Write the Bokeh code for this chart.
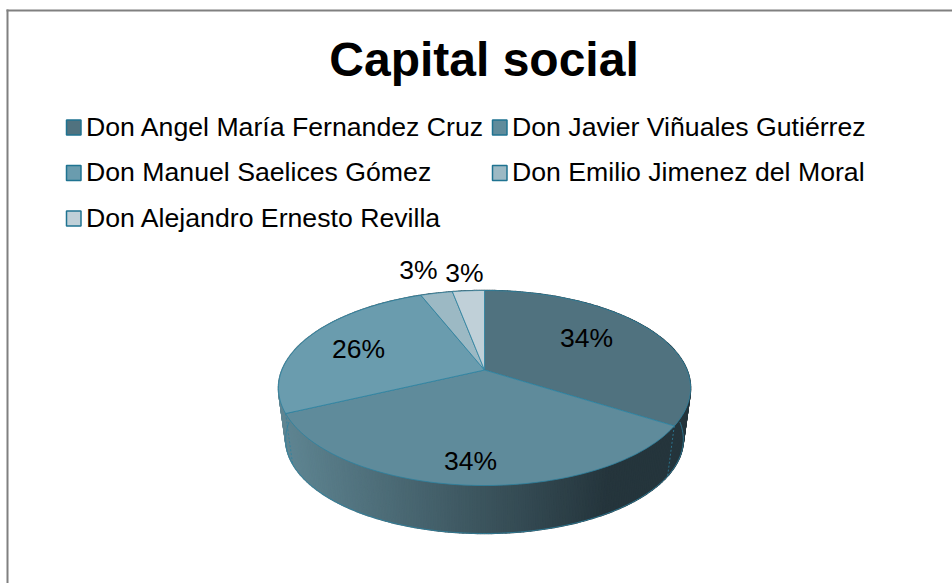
import numpy as np
from bokeh.plotting import figure
from bokeh.core.properties import value
from bokeh.embed import file_html
from bokeh.resources import INLINE

title = "Capital social"
names = ["Don Angel María Fernandez Cruz", "Don Javier Viñuales Gutiérrez",
         "Don Manuel Saelices Gómez", "Don Emilio Jimenez del Moral",
         "Don Alejandro Ernesto Revilla"]
shares = [34, 34, 26, 3, 3]
colors = ["#50727f", "#5f8b9b", "#6a9cae", "#9cb9c4", "#c0d0d8"]

FONT = value("Liberation Sans")
EDGE = "#2c82a0"
W, H = 952, 583

p = figure(width=W, height=H, x_range=(0, 952), y_range=(583, 0),
           output_backend="svg", toolbar_location=None, min_border=0,
           outline_line_color=None, background_fill_color="white")
p.axis.visible = False
p.grid.visible = False
# the frame starts left of the page margin, so the figure sits at the window's corner
p.styles = {"position": "absolute", "left": "0px", "top": "0px"}

# frame
p.line([7, 7], [583, 9], line_color="#808080", line_width=2)
p.line([6, 952], [10, 10], line_color="#808080", line_width=2)

# perspective disc: turn (fraction of the circle, clockwise from 12 o'clock) to screen
CX, AY, A, B, K = 484.0, 369.5, 94.2, 202.5, 0.1846


def rim(frac, dy=0.0, s=1.0):
    t = 2 * np.pi * np.asarray(frac, dtype=float)
    x, y = np.sin(t), np.cos(t)
    d = 1 + K * y
    return CX + s * B * x / d, AY + dy - s * A * y / d


WALL_DY, WALL_S = 52.0, 0.965


def wall_color(x):
    f = np.clip((x - 285) / (610 - 285), 0, 1)
    a, b = np.array([0x5f, 0x85, 0x92]), np.array([0x25, 0x35, 0x3c])
    c = a + (b - a) * f
    return "#%02x%02x%02x" % tuple(int(v) for v in c)


# wall, drawn back to front
n = 420
fr = np.linspace(0, 1, n + 1)
strips = []
for i in range(n):
    x0, y0 = rim(fr[i])
    x1, y1 = rim(fr[i + 1])
    x2, y2 = rim(fr[i + 1], WALL_DY, WALL_S)
    x3, y3 = rim(fr[i], WALL_DY, WALL_S)
    strips.append(((y0 + y1) / 2, [x0, x1, x2, x3], [y0, y1, y2, y3], wall_color((x0 + x1) / 2)))
strips.sort(key=lambda s: s[0])
p.patches([s[1] for s in strips], [s[2] for s in strips],
          fill_color=[s[3] for s in strips], line_color=[s[3] for s in strips], line_width=1.5)

# lower outline of the wall
f_low = np.linspace(0.25, 0.75, 200)
bx, by = rim(f_low, WALL_DY, WALL_S)
p.line(bx, by, line_color=EDGE, line_width=0.8)

# slice boundaries on the wall
cum = np.cumsum([0] + shares) / sum(shares)
for c in cum[1:3]:
    tx, ty = rim(c)
    ex, ey = rim(c, WALL_DY, WALL_S)
    p.line([tx, ex], [ty, ey], line_color=EDGE, line_width=0.8, line_dash="2 2")

# top faces
for i, col in enumerate(colors):
    f = np.linspace(cum[i], cum[i + 1], 100)
    x, y = rim(f)
    p.patch(np.r_[CX, x], np.r_[AY, y], fill_color=col, line_color=EDGE, line_width=0.8)

# percentage labels
lab_x = [586, 470, 358, 418, 464]
lab_y = [337, 460, 348, 269, 272]
p.text(lab_x, lab_y, text=[f"{v}%" for v in shares], text_font=FONT, text_font_size="26.5px",
       text_align="center", text_baseline="middle", text_color="black")

# title
p.text([483.5], [59], text=[title], text_font=FONT, text_font_size="48px", text_font_style="bold",
       text_align="center", text_baseline="middle", text_color="black")

# legend
leg_col = [66, 492, 66, 492, 66]
leg_row = [127, 127, 172.5, 172.5, 218]
for name, col, lx, ly in zip(names, colors, leg_col, leg_row):
    p.quad(left=lx, right=lx + 14.5, top=ly - 7.5, bottom=ly + 7.5, fill_color=col,
           line_color="#1f7391", line_width=1.5)
    p.text([lx + 19.5], [ly - 1], text=[name], text_font=FONT, text_font_size="26.67px",
           text_align="left", text_baseline="middle", text_color="black")

open("out.html", "w").write(file_html(p, INLINE))
